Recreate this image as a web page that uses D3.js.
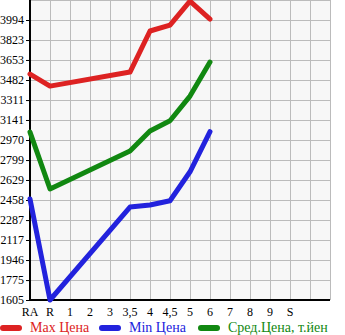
<!DOCTYPE html>
<html>
<head>
<meta charset="UTF-8">
<script src="https://cdn.jsdelivr.net/npm/d3@7"></script>
<style>
  body { margin: 0; background: #fff; }
  text { font-family: "Liberation Serif", serif; }
</style>
</head>
<body>
<svg id="chart" width="345" height="335"></svg>
<script>
// categories along the bottom (last two slots are empty)
var categories = ['RA', 'R', '1', '2', '3', '3,5', '4', '4,5', '5', '6', '7', '8', '9', 'S', '', ''];
var yTicks = [1605, 1775, 1946, 2117, 2287, 2458, 2629, 2799, 2970, 3141, 3311, 3482, 3653, 3823, 3994];

// price series, null = no data for that grade
var maxPrice = [3533, 3430, null, null, null, 3550, 3900, 3951, 4155, 4002];
var minPrice = [2467, 1605, null, null, null, 2398, 2415, 2452, 2699, 3041];
var avgPrice = [3038, 2552, null, null, null, 2876, 3047, 3134, 3345, 3635];

var series = [
  { name: 'Max Цена', values: maxPrice, color: '#dd2222' },
  { name: 'Min Цена', values: minPrice, color: '#2222dd' },
  { name: 'Сред.Цена, т.йен', values: avgPrice, color: '#118811' }
];

var svg = d3.select('#chart');
var pLeft = 30, pRight = 330, pTop = 0, pBottom = 300;

var x = d3.scaleLinear().domain([0, categories.length - 1]).range([pLeft, pRight]);
var yStep = (yTicks[yTicks.length - 1] - yTicks[0]) / (yTicks.length - 1);
var y = d3.scaleLinear().domain([yTicks[0], yTicks[yTicks.length - 1] + yStep]).range([pBottom, pTop]);

// plot background
svg.append('rect').attr('x', pLeft).attr('y', pTop)
  .attr('width', pRight - pLeft).attr('height', pBottom - pTop).attr('fill', '#f7f7f7');

// grid
var grid = svg.append('g').attr('stroke', '#bbbbbb').attr('stroke-width', 1);
d3.range(1, categories.length).forEach(function (i) {
  grid.append('line').attr('x1', Math.round(x(i)) + 0.5).attr('x2', Math.round(x(i)) + 0.5)
    .attr('y1', pTop).attr('y2', pBottom);
});
yTicks.slice(1).forEach(function (v) {
  grid.append('line').attr('x1', pLeft).attr('x2', pRight)
    .attr('y1', Math.round(y(v)) + 0.5).attr('y2', Math.round(y(v)) + 0.5);
});
grid.append('line').attr('x1', pLeft).attr('x2', pRight).attr('y1', 0.5).attr('y2', 0.5);

// y axis
var yAxis = d3.axisLeft(y).tickValues(yTicks).tickSize(4).tickPadding(2)
  .tickFormat(function (d) { return d; });
var gy = svg.append('g').attr('transform', 'translate(' + pLeft + ',0)').call(yAxis);
gy.select('.domain').remove();
gy.selectAll('line').attr('stroke', '#000');
gy.selectAll('text').attr('font-size', 12).attr('fill', '#000').style('font-family', '"Liberation Serif", serif');

// x axis labels
var gx = svg.append('g');
categories.forEach(function (c, i) {
  gx.append('text').attr('x', x(i)).attr('y', pBottom + 16)
    .attr('text-anchor', 'middle').attr('font-size', 12).text(c);
});

// axis lines
svg.append('line').attr('x1', pLeft).attr('x2', pLeft).attr('y1', pTop).attr('y2', pBottom + 1)
  .attr('stroke', '#000').attr('stroke-width', 2);
svg.append('line').attr('x1', pLeft - 1).attr('x2', pRight).attr('y1', pBottom).attr('y2', pBottom)
  .attr('stroke', '#000').attr('stroke-width', 2);

// lines
svg.append('clipPath').attr('id', 'clip').append('rect')
  .attr('x', pLeft - 5).attr('y', pTop).attr('width', pRight - pLeft + 10).attr('height', pBottom - pTop + 3);

var line = d3.line()
  .x(function (d) { return x(d.i); })
  .y(function (d) { return y(d.v); });

series.forEach(function (s) {
  var pts = s.values.map(function (v, i) { return { i: i, v: v }; })
    .filter(function (d) { return d.v != null; });
  svg.append('path').datum(pts).attr('d', line)
    .attr('fill', 'none').attr('stroke', s.color).attr('stroke-width', 5)
    .attr('stroke-linecap', 'round').attr('stroke-linejoin', 'round')
    .attr('clip-path', 'url(#clip)');
});

// legend
var legendX = [0, 99, 198];
series.forEach(function (s, i) {
  var g = svg.append('g').attr('transform', 'translate(' + legendX[i] + ',332)');
  g.append('line').attr('x1', 3).attr('x2', 19).attr('y1', -4).attr('y2', -4)
    .attr('stroke', s.color).attr('stroke-width', 6).attr('stroke-linecap', 'round');
  g.append('text').attr('x', 30).attr('y', 0).attr('font-size', 14)
    .attr('fill', s.color).text(s.name);
});
</script>
</body>
</html>
